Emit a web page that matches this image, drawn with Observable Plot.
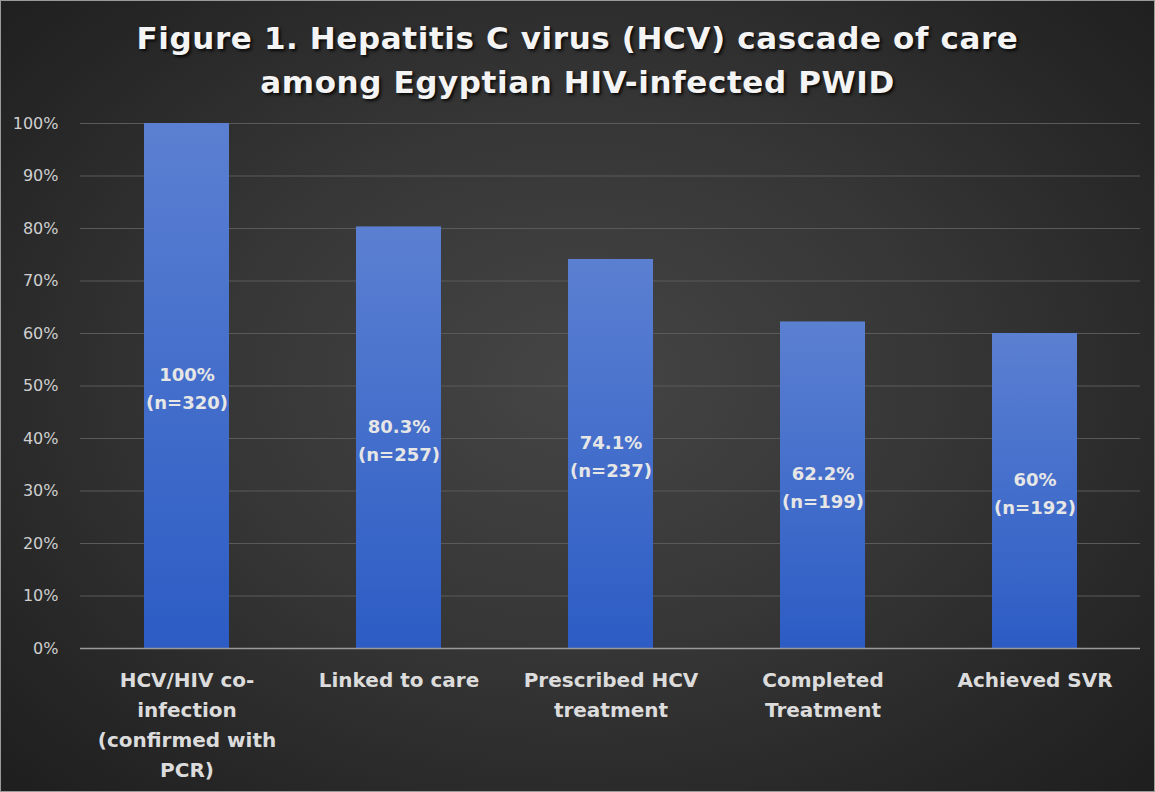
<!DOCTYPE html>
<html>
<head>
<meta charset="utf-8">
<script src="https://cdn.jsdelivr.net/npm/d3@7"></script>
<script src="https://cdn.jsdelivr.net/npm/@observablehq/plot@0.6"></script>
<style>
  html, body { margin: 0; padding: 0; background: #1c1c1c; }
  #wrap {
    position: relative; width: 1155px; height: 792px; box-sizing: border-box;
    border: 1px solid #9a9a9a; overflow: hidden;
    background: radial-gradient(ellipse 70% 75% at 50% 48%, #454545 0%, #363636 45%, #262626 80%, #1e1e1e 100%);
    font-family: "DejaVu Sans", sans-serif;
  }
  #title {
    height: 104px; box-sizing: border-box; padding-top: 15px;
    text-align: center; color: #f4f4f4; font-weight: bold; font-size: 31px;
    line-height: 44px; letter-spacing: 0.6px;
    text-shadow: 2px 2px 3px rgba(0,0,0,0.8);
  }
  #chart svg { display: block; }
</style>
</head>
<body>
<div id="wrap">
  <div id="title">Figure 1. Hepatitis C virus (HCV) cascade of care<br>among Egyptian HIV-infected PWID</div>
  <div id="chart"></div>
</div>
<script>
const categories = ["HCV/HIV co-infection (confirmed with PCR)", "Linked to care", "Prescribed HCV treatment", "Completed Treatment", "Achieved SVR"];
const tickLabels = ["HCV/HIV co-\ninfection\n(confirmed with\nPCR)", "Linked to care", "Prescribed HCV\ntreatment", "Completed\nTreatment", "Achieved SVR"];
const percents = [100, 80.3, 74.1, 62.2, 60];
const counts = [320, 257, 237, 199, 192];
const yTicks = [0, 10, 20, 30, 40, 50, 60, 70, 80, 90, 100];

const data = categories.map((c, i) => ({
  category: c, pct: percents[i], n: counts[i], tick: tickLabels[i],
  label: `${percents[i]}%\n(n=${counts[i]})`
}));

const W = 1153, H = 686;
const chart = Plot.plot({
  width: W, height: H,
  marginTop: 18, marginBottom: H - 543, marginLeft: 79, marginRight: 14,
  style: { background: "transparent", fontFamily: "DejaVu Sans, sans-serif", overflow: "visible" },
  x: { domain: categories, paddingInner: 0.6, paddingOuter: 0.3, axis: null },
  y: { domain: [0, 100] },
  marks: [
    Plot.ruleY(yTicks.filter(d => d > 0), { stroke: "#5a5a5a", strokeWidth: 1 }),
    Plot.axisY({ ticks: yTicks, tickFormat: d => d + "%", tickSize: 0, tickPadding: 22, fontSize: 16, color: "#cfcfcf", label: null }),
    Plot.barY(data, { x: "category", y: "pct", fill: "url(#barGrad)" }),
    Plot.ruleY([0], { stroke: "#9a9a9a", strokeWidth: 1.5 }),
    Plot.text(data, { x: "category", y: d => d.pct / 2, text: "label", fill: "#e6e6e6", fontSize: 18, fontWeight: "bold", lineHeight: 1.55 }),
    Plot.text(data, { x: "category", y: () => 0, text: "tick", lineAnchor: "top", dy: 17, fill: "#dcdcdc", fontSize: 20, fontWeight: "bold", lineHeight: 1.5 })
  ]
});

const defs = d3.select(chart).insert("defs", ":first-child");
const g = defs.append("linearGradient").attr("id", "barGrad").attr("x1", 0).attr("y1", 0).attr("x2", 0).attr("y2", 1);
g.append("stop").attr("offset", "0%").attr("stop-color", "#5b80d2");
g.append("stop").attr("offset", "100%").attr("stop-color", "#2c5cc4");

document.getElementById("chart").append(chart);
</script>
</body>
</html>
